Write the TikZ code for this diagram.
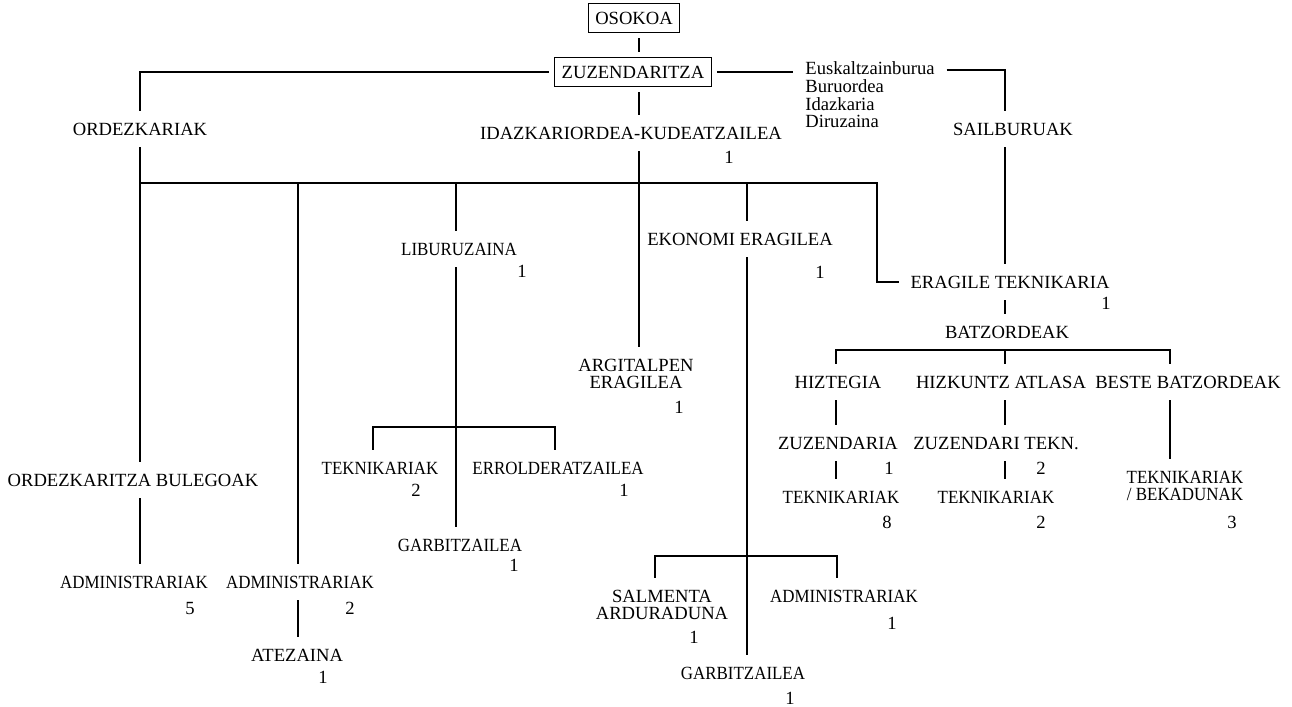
\documentclass[tikz,border=0pt]{standalone}
\usepackage{fontspec}
\setmainfont{Liberation Serif}
\newfontfamily\narrowfont{Liberation Serif}[FakeStretch=0.91]
\usepackage{tikz}

\begin{document}
\begin{tikzpicture}[x=0.5pt, y=-0.5pt, line width=0.6pt,
    font=\fontsize{9.3}{8.8}\selectfont,
    every node/.style={inner sep=2pt, outer sep=4pt, align=center},
    box/.style={draw, inner xsep=3.5pt, inner ysep=4pt, outer sep=3pt},
    narrow/.style={font=\fontsize{9.3}{8.8}\narrowfont},
    num/.style={inner sep=0pt, outer sep=0pt}]
  \useasboundingbox (0,0) rectangle (1292,707);

  % top
  \node[box] (osok)  at (634, 18)  {OSOKOA};
  \node[box] (zuz)   at (633, 72)  {ZUZENDARITZA};
  \node      (ordez) at (140,129)  {ORDEZKARIAK};
  \node      (idaz)  at (631,133)  {IDAZKARIORDEA-KUDEATZAILEA};
  \node[align=left] (eusk) at (870, 95) {Euskaltzainburua\\Buruordea\\Idazkaria\\Diruzaina};
  \node      (sail)  at (1013,129) {SAILBURUAK};

  % second level
  \node[narrow] (lib) at (459,249) {LIBURUZAINA};
  \node      (eko)   at (740,239)  {EKONOMI ERAGILEA};
  \node      (erag)  at (1010,282) {ERAGILE TEKNIKARIA};
  \node      (batz)  at (1007,332) {BATZORDEAK};
  \node      (argit) at (636,374)  {ARGITALPEN\\ERAGILEA};
  \node      (hizt)  at (838,382)  {HIZTEGIA};
  \node      (hizk)  at (1001,382) {HIZKUNTZ ATLASA};
  \node      (beste) at (1188,382) {BESTE BATZORDEAK};
  \node      (zd)    at (838,443)  {ZUZENDARIA};
  \node      (zt)    at (996,443)  {ZUZENDARI TEKN.};
  \node      (obul)  at (133,480)  {ORDEZKARITZA BULEGOAK};
  \node[narrow] (tekn)  at (380,468) {TEKNIKARIAK};
  \node[narrow] (errol) at (558,468) {ERROLDERATZAILEA};
  \node[narrow] (tb)    at (1185,486) {TEKNIKARIAK\\/ BEKADUNAK};
  \node[narrow] (tek8)  at (841,497) {TEKNIKARIAK};
  \node[narrow] (tek2)  at (996,497) {TEKNIKARIAK};
  \node[narrow] (garb1) at (460,545) {GARBITZAILEA};
  \node[narrow] (adm5)  at (134,582) {ADMINISTRARIAK};
  \node[narrow] (adm2)  at (300,582) {ADMINISTRARIAK};
  \node      (salm)  at (662,605)  {SALMENTA\\ARDURADUNA};
  \node[narrow] (adm3)  at (844,596) {ADMINISTRARIAK};
  \node      (atez)  at (297,655)  {ATEZAINA};
  \node[narrow] (garb2) at (743,673) {GARBITZAILEA};

  % counts
  \node[num] (n1)  at (729,157)  {1};
  \node[num] (n2)  at (522,271)  {1};
  \node[num] (n3)  at (820,272)  {1};
  \node[num] (n4)  at (1106,303) {1};
  \node[num] (n5)  at (679,407)  {1};
  \node[num] (n6)  at (416,490)  {2};
  \node[num] (n7)  at (624,490)  {1};
  \node[num] (n8)  at (514,565)  {1};
  \node[num] (n9)  at (190,608)  {5};
  \node[num] (n10) at (350,608)  {2};
  \node[num] (n11) at (323,677)  {1};
  \node[num] (n12) at (889,468)  {1};
  \node[num] (n13) at (1041,468) {2};
  \node[num] (n14) at (887,522)  {8};
  \node[num] (n15) at (1041,522) {2};
  \node[num] (n16) at (1232,522) {3};
  \node[num] (n17) at (694,637)  {1};
  \node[num] (n18) at (892,623)  {1};
  \node[num] (n19) at (790,698)  {1};

  % joints
  \coordinate (bA) at (140,183);
  \coordinate (bB) at (298,183);
  \coordinate (bC) at (456,183);
  \coordinate (bD) at (639,183);
  \coordinate (bE) at (747,183);
  \coordinate (bF) at (877,183);
  \coordinate (cL) at (373,427);
  \coordinate (cR) at (555,427);
  \coordinate (eL) at (655,556);
  \coordinate (eR) at (837,556);
  \coordinate (sS) at (1005,70);
  \coordinate (gL) at (836,350);
  \coordinate (gR) at (1170,350);

  % main column
  \draw (bD |- osok.south) -- (bD |- zuz.north);
  \draw (bD |- zuz.south) -- (bD |- idaz.north);
  \draw (bD |- idaz.south) -- (bD |- argit.north);
  \draw (zuz) -| (ordez);
  \draw (zuz) -- (zuz -| eusk.west);
  \draw (eusk.east |- sS) -- (sS) -- (sS |- sail.north);

  % bus
  \draw (bA) -- (bF) |- (erag);
  \draw (bA |- ordez.south) -- (bA |- obul.north);
  \draw (bA |- obul.south) -- (bA |- adm5.north);
  \draw (bB) -- (bB |- adm2.north);
  \draw (bB |- adm2.south) -- (bB |- atez.north);
  \draw (bC) -- (bC |- lib.north);
  \draw (bC |- lib.south) -- (bC |- garb1.north);
  \draw (cL |- tekn.north) -- (cL) -- (cR) -- (cR |- errol.north);
  \draw (bE) -- (bE |- eko.north);
  \draw (bE |- eko.south) -- (bE |- garb2.north);
  \draw (eL |- salm.north) -- (eL) -- (eR) -- (eR |- adm3.north);

  % batzordeak
  \draw (sS |- sail.south) -- (sS |- erag.north);
  \draw (sS |- erag.south) -- (sS |- batz.north);
  \draw (sS |- batz.south) -- (sS |- hizk.north);
  \draw (gL |- hizt.north) -- (gL) -- (gR) -- (gR |- beste.north);
  \draw (gL |- hizt.south) -- (gL |- zd.north);
  \draw (gL |- zd.south) -- (gL |- tek8.north);
  \draw (sS |- hizk.south) -- (sS |- zt.north);
  \draw (sS |- zt.south) -- (sS |- tek2.north);
  \draw (gR |- beste.south) -- (gR |- tb.north);
\end{tikzpicture}
\end{document}
